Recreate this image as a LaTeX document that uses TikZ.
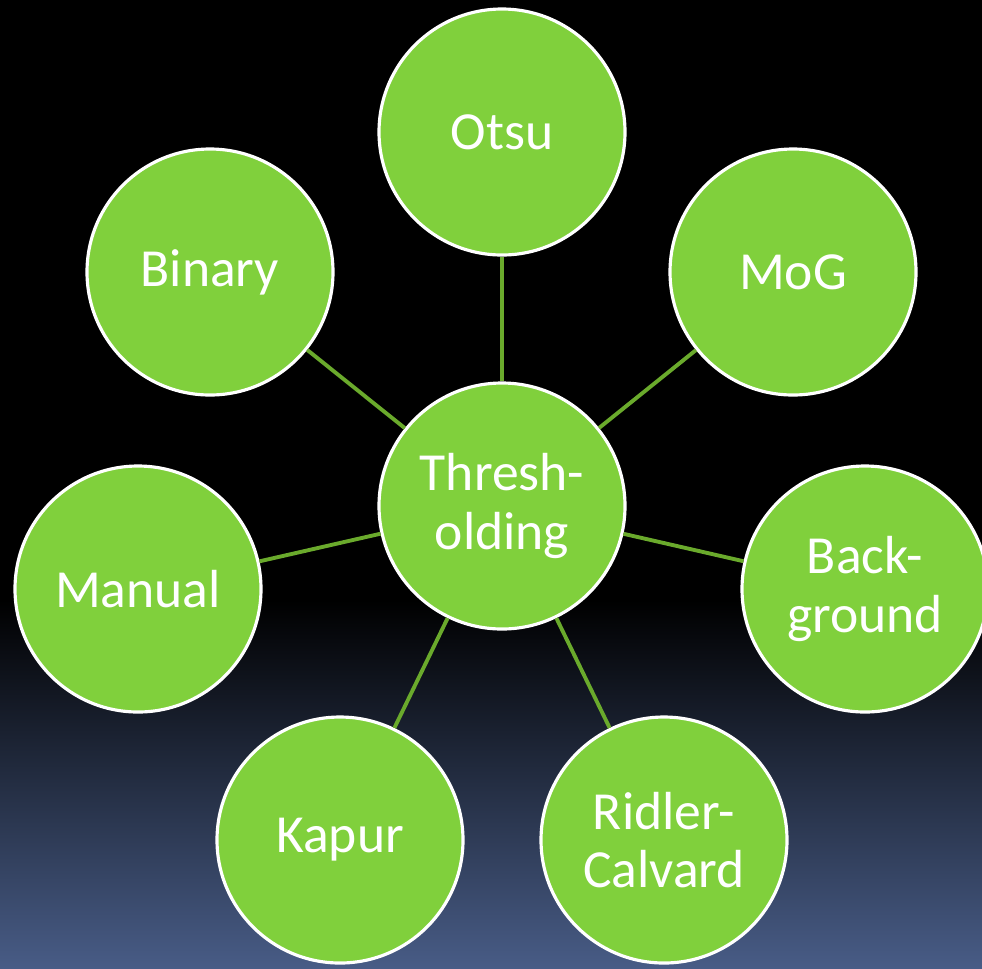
\documentclass[tikz,border=0pt]{standalone}
\usepackage{fontspec}
\setmainfont{Carlito}
\definecolor{leaf}{RGB}{128,208,60}
\definecolor{stem}{RGB}{106,170,44}
\definecolor{dusk}{RGB}{72,92,134}
\begin{document}
\begin{tikzpicture}[
                          x=0.02cm,y=-0.02cm,
                          bubble/.style={draw=white,line width=1.8pt,fill=leaf,circle,
                            minimum size=246*0.02cm,inner sep=0pt,align=center,text=white,
                            font=\fontsize{30.5}{33.5}\selectfont},
                          spoke/.style={draw=stem,line width=2.2pt}
                        ]
                        \useasboundingbox (0,0) rectangle (982,968);
                        \fill[black] (0,0) rectangle (982,600);
                        \shade[top color=black,bottom color=dusk] (0,600) rectangle (982,968);

                        \node[bubble] (T) at (502,506) {Thresh-\\olding};
                        \foreach \name/\x/\y/\txt in {otsu/502/132/Otsu, mog/793/272/MoG,
                            back/865/589/{Back-\\ground}, ridler/664/840/{Ridler-\\Calvard},
                            kapur/340/840/Kapur, manual/138/589/Manual, binary/210/272/Binary} {
                            \node[bubble] (\name) at (\x,\y) {\txt};
                            \draw[spoke] (T) -- (\name);
                          }
                      \end{tikzpicture}
\end{document}
